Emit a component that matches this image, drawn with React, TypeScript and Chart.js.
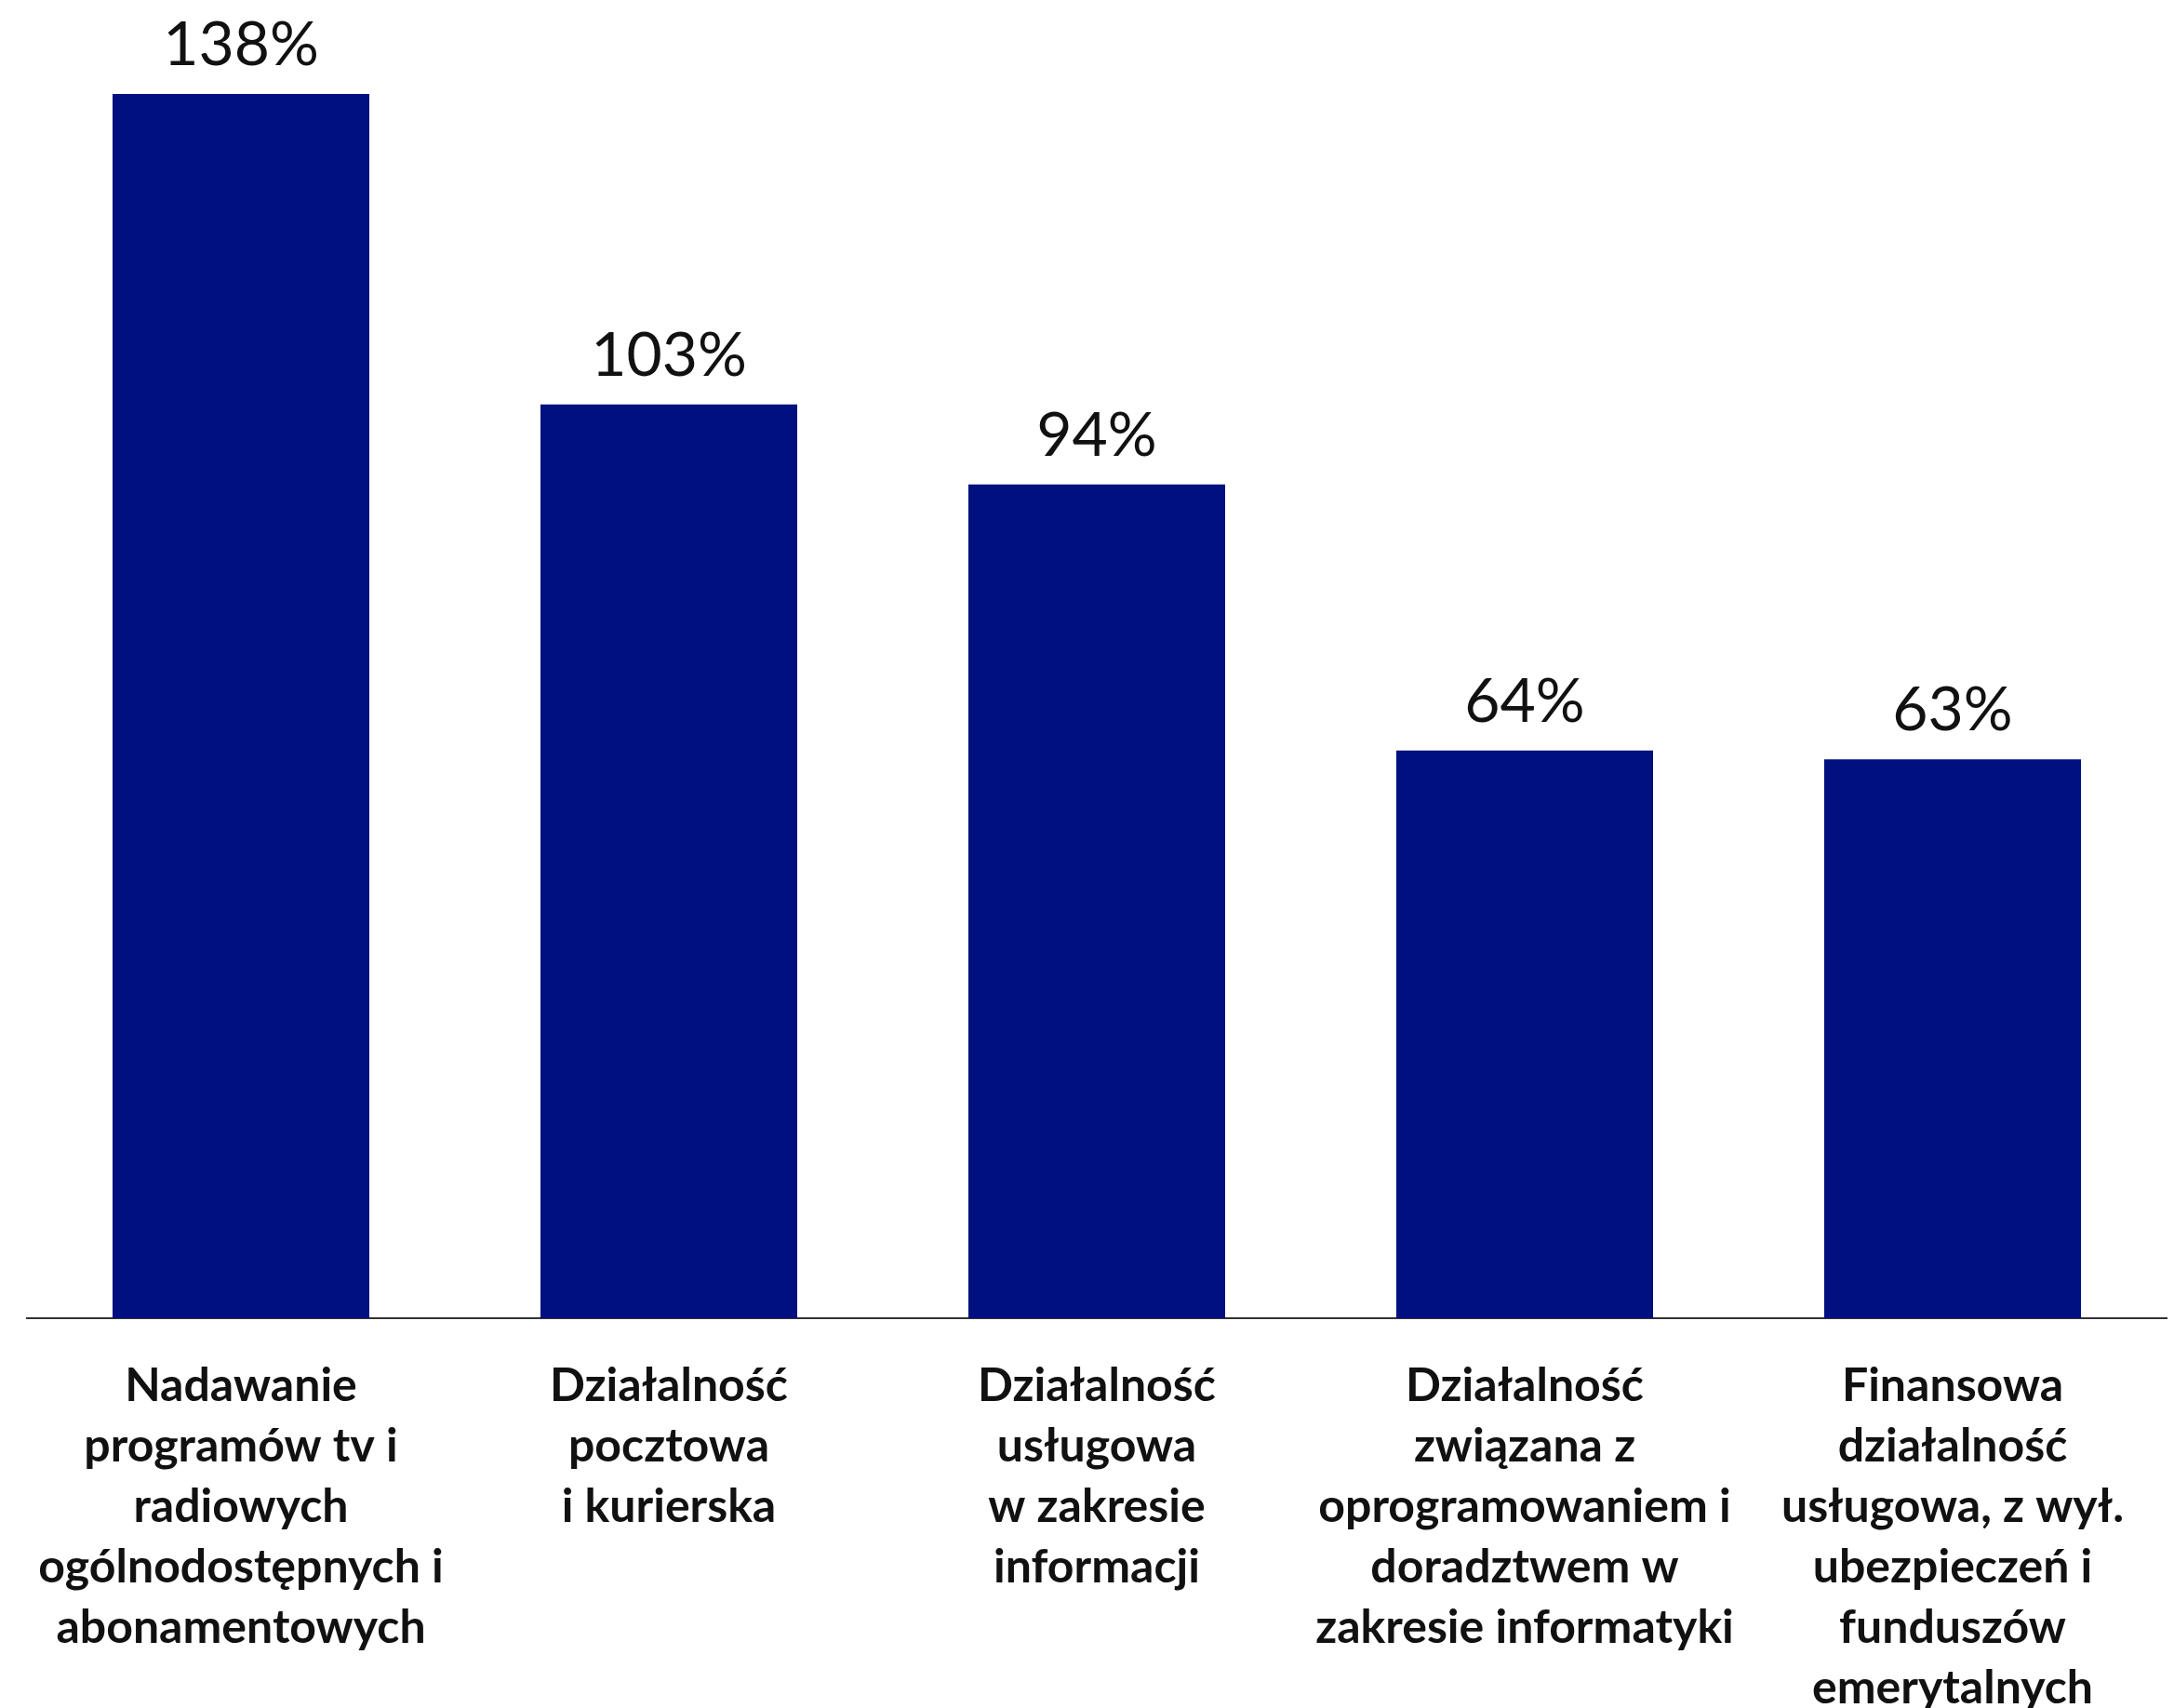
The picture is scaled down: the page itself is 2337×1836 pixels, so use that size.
import React, { useEffect, useRef } from "react";
import { Chart, registerables } from "chart.js";

Chart.register(...registerables);

const categories: string[][] = [
  ["Nadawanie", "programów tv i", "radiowych", "ogólnodostępnych i", "abonamentowych"],
  ["Działalność", "pocztowa", "i kurierska"],
  ["Działalność", "usługowa", "w zakresie", "informacji"],
  ["Działalność", "związana z", "oprogramowaniem i", "doradztwem w", "zakresie informatyki"],
  ["Finansowa", "działalność", "usługowa, z wył.", "ubezpieczeń i", "funduszów", "emerytalnych"],
];

const values: number[] = [138, 103, 94, 64, 63];

const W = 2337;
const H = 1836;
const AXIS_Y = 1417;

const valueLabels = {
  id: "valueLabels",
  afterDatasetsDraw(chart: any) {
    const ctx = chart.ctx;
    const meta = chart.getDatasetMeta(0);
    ctx.save();
    ctx.font = "66px Lato";
    ctx.fillStyle = "#111111";
    ctx.textAlign = "center";
    ctx.textBaseline = "alphabetic";
    meta.data.forEach((bar: any, i: number) => {
      ctx.fillText(values[i] + "%", bar.x, bar.y - 31);
    });
    ctx.restore();
  },
};

export default function App() {
  const ref = useRef<HTMLCanvasElement | null>(null);
  useEffect(() => {
    if (!ref.current) return;
    const chart = new Chart(ref.current, {
      type: "bar",
      data: {
        labels: categories,
        datasets: [
          {
            data: values,
            backgroundColor: "#00107F",
            borderWidth: 0,
            categoryPercentage: 0.6,
            barPercentage: 1,
          },
        ],
      },
      options: {
        responsive: false,
        animation: false,
        devicePixelRatio: 1,
        layout: { padding: { left: 29, right: 8, top: 82, bottom: 0 } },
        plugins: {
          legend: { display: false },
          tooltip: { enabled: false },
        },
        scales: {
          x: {
            grid: { display: false },
            border: { display: true, color: "#333333", width: 2 },
            ticks: {
              color: "#111111",
              padding: 32,
              maxRotation: 0,
              minRotation: 0,
              autoSkip: false,
              font: { family: "Lato", size: 50, weight: "bold", lineHeight: 1.3 },
            },
            afterFit: (s: any) => {
              s.height = H - AXIS_Y;
            },
          },
          y: {
            display: false,
            min: 0,
            max: 140,
          },
        },
      },
      plugins: [valueLabels],
    } as any);
    return () => chart.destroy();
  }, []);
  return (
    <div style={{ position: "absolute", left: 0, top: 0, width: W, height: H, background: "#fff" }}>
      <canvas ref={ref} width={W} height={H} style={{ width: W, height: H, display: "block" }} />
    </div>
  );
}
